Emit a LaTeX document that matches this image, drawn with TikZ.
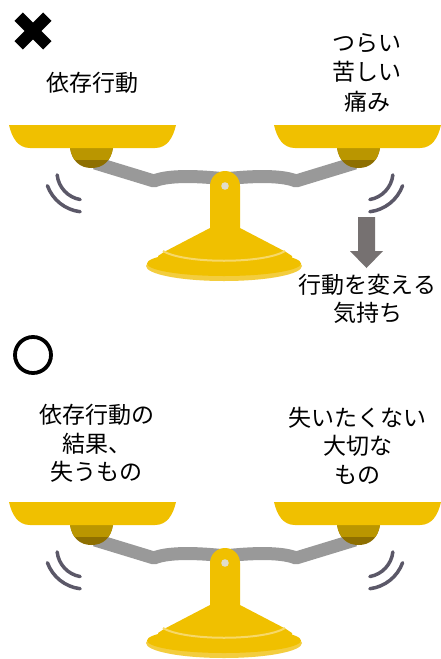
\documentclass[tikz,border=0pt]{standalone}
\usepackage{fontspec}
\setmainfont{Noto Sans CJK JP}

\definecolor{panyellow}{HTML}{F0C000}
\definecolor{rimyellow}{HTML}{F3CD3E}
\definecolor{ringyellow}{HTML}{F7D868}
\definecolor{holderlight}{HTML}{BA9600}
\definecolor{holderdark}{HTML}{8E6F00}
\definecolor{beamgray}{HTML}{999999}
\definecolor{swaygray}{HTML}{5B5868}
\definecolor{arrowgray}{HTML}{767171}
\definecolor{pindot}{HTML}{E0DCCB}

% one arm of the balance: beam, pan holder, pan and sway marks
\newcommand\balancearm{%
  \draw[beamgray, line width=13pt, line join=round]
    (95,163) -- (154,181) .. controls (166,176) and (190,175) .. (226,179);
  \fill[holderdark] (70,148) .. controls (72,161) and (80,168) .. (91.5,168)
    .. controls (103,168) and (111,161) .. (113,148) -- cycle;
  \begin{scope}
    \clip (60,140) rectangle (125,159);
    \fill[holderlight] (70,148) .. controls (72,161) and (80,168) .. (91.5,168)
      .. controls (103,168) and (111,161) .. (113,148) -- cycle;
  \end{scope}
  \fill[panyellow] (9,125) -- (176,125) .. controls (173,138) and (167,148) .. (155,148)
    -- (30,148) .. controls (18,148) and (12,138) .. (9,125) -- cycle;
  \draw[sway] (57.15,174.9) arc[start angle=174, end angle=100, radius=28];
  \draw[sway] (47.4,185.7) arc[start angle=160, end angle=97, radius=40];
}

\tikzset{
  txt/.style={inner sep=0pt, align=center, text=black,
              font=\fontsize{23}{28.5}\selectfont},
  sway/.style={draw=swaygray, line width=3.5pt, line cap=round},
  % the whole balance: two mirrored arms on a post with a round base
  balance/.pic={
    \balancearm
    \begin{scope}[cm={-1,0,0,1,(450,0)}]
      \balancearm
    \end{scope}
    \fill[rimyellow] (224,266) ellipse[x radius=78, y radius=15];
    \fill[panyellow] (224,263.5) ellipse[x radius=77, y radius=12.5];
    \fill[panyellow] (210,228) -- (210,186) arc[start angle=180, end angle=360, radius=15]
      -- (240,228) -- (286,252) -- (292,256) -- (292,262) -- (158,262) -- (158,256)
      -- (164,252) -- cycle;
    \draw[ringyellow, line width=2pt] (163,251) .. controls (184,264) and (264,264) .. (285,251);
    \fill[pindot] (225,186) circle[radius=3.8];
  }
}

\begin{document}
\begin{tikzpicture}[x=1pt, y=-1pt]
  \fill[white] (0,0) rectangle (441,659);
  \useasboundingbox (0,0) rectangle (441,659);

  % upper panel: the wrong balance
  \draw[line width=12pt] (18.7,16.7) -- (47.3,45.3) (18.7,45.3) -- (47.3,16.7);
  \pic at (0,0) {balance};
  \node[txt] (addiction) at (92,83) {依存行動};
  \node[txt, font=\fontsize{23}{29.5}\selectfont] (pain) at (367,72.5) {つらい\\苦しい\\痛み};
  \fill[arrowgray] (358,217) -- (375,217) -- (375,251) -- (383,251) -- (366.5,268)
    -- (350,251) -- (358,251) -- cycle;
  \node[txt] (wish) at (367.5,299) {行動を変える\\気持ち};

  % lower panel: the right balance
  \draw[line width=3.8pt] (33,355) circle[radius=18];
  \pic at (0,377) {balance};
  \node[txt] (lost) at (96.5,443.5) {依存行動の\\結果、\\失うもの};
  \node[txt] (precious) at (357.5,445.5) {失いたくない\\大切な\\もの};
\end{tikzpicture}
\end{document}
